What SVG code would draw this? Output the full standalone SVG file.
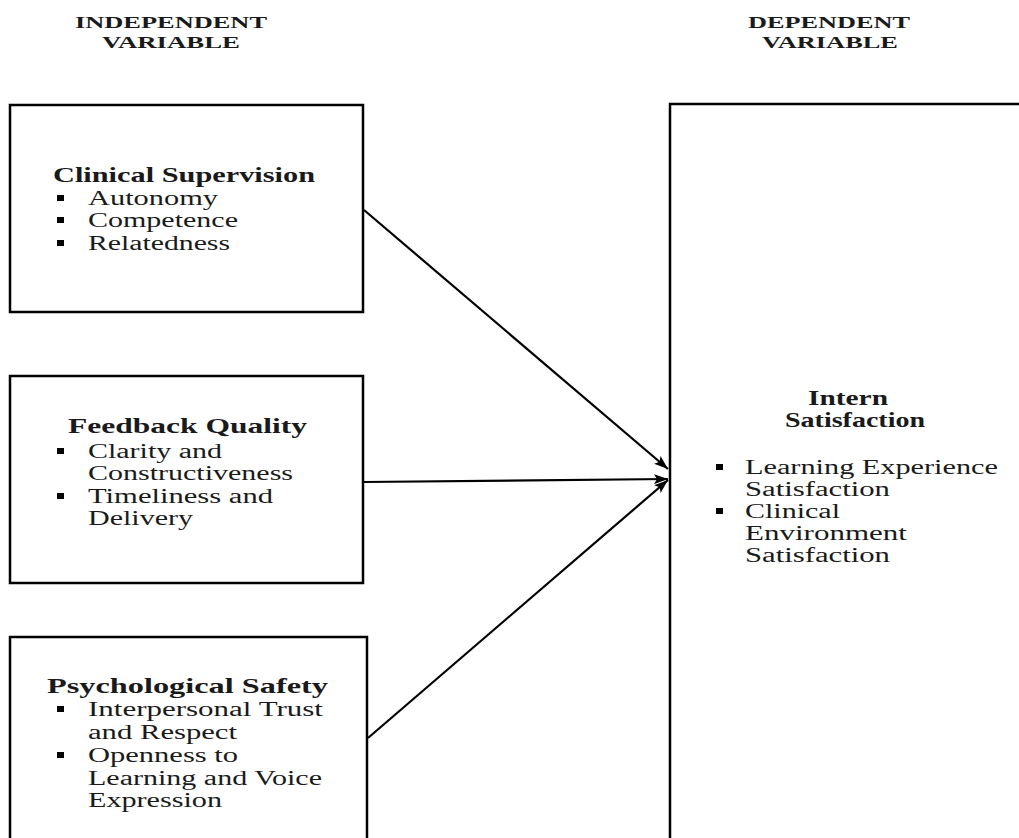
<svg xmlns="http://www.w3.org/2000/svg" width="1019" height="838" viewBox="0 0 1019 838">
<style>
.box{fill:#fff;stroke:#000;stroke-width:2.5}
.hd{font-family:"Liberation Serif","Times New Roman",serif;font-weight:bold;font-size:17px;fill:#1a1a1a}
.tt{font-family:"Liberation Serif","Times New Roman",serif;font-weight:bold;font-size:21px;fill:#1a1a1a}
.tx{font-family:"Liberation Serif","Times New Roman",serif;font-size:20px;fill:#1a1a1a}
.cn{stroke:#000;stroke-width:2.2;fill:none}
</style>
<defs>
<rect id="b" width="7" height="6" fill="#000"/>
<marker id="a" viewBox="0 0 14 10" refX="14" refY="5" markerWidth="14" markerHeight="10" markerUnits="userSpaceOnUse" orient="auto">
<path d="M0,0 L14,5 L0,10 L3,5 z" fill="#000"/>
</marker>
</defs>
<rect width="1019" height="838" fill="#fff"/>
<g id="headers">
<text class="hd" x="75" y="28" textLength="192" lengthAdjust="spacingAndGlyphs">INDEPENDENT</text>
<text class="hd" x="102" y="48" textLength="138" lengthAdjust="spacingAndGlyphs">VARIABLE</text>
<text class="hd" x="748" y="28" textLength="162" lengthAdjust="spacingAndGlyphs">DEPENDENT</text>
<text class="hd" x="762" y="48" textLength="136" lengthAdjust="spacingAndGlyphs">VARIABLE</text>
</g>
<g id="clinical-supervision">
<rect class="box" x="10" y="105" width="353" height="207"/>
<text class="tt" x="53" y="182" textLength="262" lengthAdjust="spacingAndGlyphs">Clinical Supervision</text>
<use href="#b" x="57" y="195"/><text class="tx" x="88" y="205" textLength="130" lengthAdjust="spacingAndGlyphs">Autonomy</text>
<use href="#b" x="57" y="217"/><text class="tx" x="88" y="227" textLength="150" lengthAdjust="spacingAndGlyphs">Competence</text>
<use href="#b" x="57" y="240"/><text class="tx" x="88" y="250" textLength="142" lengthAdjust="spacingAndGlyphs">Relatedness</text>
</g>
<g id="feedback-quality">
<rect class="box" x="10" y="376" width="353" height="207"/>
<text class="tt" x="68" y="433" textLength="239" lengthAdjust="spacingAndGlyphs">Feedback Quality</text>
<use href="#b" x="57" y="448"/><text class="tx" x="88" y="458" textLength="134" lengthAdjust="spacingAndGlyphs">Clarity and</text>
<text class="tx" x="88" y="480" textLength="205" lengthAdjust="spacingAndGlyphs">Constructiveness</text>
<use href="#b" x="57" y="493"/><text class="tx" x="88" y="503" textLength="185" lengthAdjust="spacingAndGlyphs">Timeliness and</text>
<text class="tx" x="88" y="525" textLength="105" lengthAdjust="spacingAndGlyphs">Delivery</text>
</g>
<g id="psychological-safety">
<rect class="box" x="10" y="637" width="357" height="220"/>
<text class="tt" x="47" y="693" textLength="281" lengthAdjust="spacingAndGlyphs">Psychological Safety</text>
<use href="#b" x="57" y="706"/><text class="tx" x="88" y="716" textLength="235" lengthAdjust="spacingAndGlyphs">Interpersonal Trust</text>
<text class="tx" x="88" y="739" textLength="149" lengthAdjust="spacingAndGlyphs">and Respect</text>
<use href="#b" x="57" y="752"/><text class="tx" x="88" y="762" textLength="150" lengthAdjust="spacingAndGlyphs">Openness to</text>
<text class="tx" x="88" y="785" textLength="234" lengthAdjust="spacingAndGlyphs">Learning and Voice</text>
<text class="tx" x="88" y="807" textLength="134" lengthAdjust="spacingAndGlyphs">Expression</text>
</g>
<g id="intern-satisfaction">
<rect class="box" x="670" y="104" width="380" height="760"/>
<text class="tt" x="808" y="405" textLength="80" lengthAdjust="spacingAndGlyphs">Intern</text>
<text class="tt" x="785" y="427" textLength="140" lengthAdjust="spacingAndGlyphs">Satisfaction</text>
<use href="#b" x="716" y="464"/><text class="tx" x="745" y="474" textLength="253" lengthAdjust="spacingAndGlyphs">Learning Experience</text>
<text class="tx" x="745" y="496" textLength="145" lengthAdjust="spacingAndGlyphs">Satisfaction</text>
<use href="#b" x="716" y="508"/><text class="tx" x="745" y="518" textLength="95" lengthAdjust="spacingAndGlyphs">Clinical</text>
<text class="tx" x="745" y="540" textLength="162" lengthAdjust="spacingAndGlyphs">Environment</text>
<text class="tx" x="745" y="562" textLength="145" lengthAdjust="spacingAndGlyphs">Satisfaction</text>
</g>
<g id="connectors">
<line class="cn" x1="364" y1="210" x2="668" y2="469" marker-end="url(#a)"/>
<line class="cn" x1="364" y1="482" x2="668" y2="479" marker-end="url(#a)"/>
<line class="cn" x1="368" y1="738" x2="668" y2="480" marker-end="url(#a)"/>
</g>
</svg>
